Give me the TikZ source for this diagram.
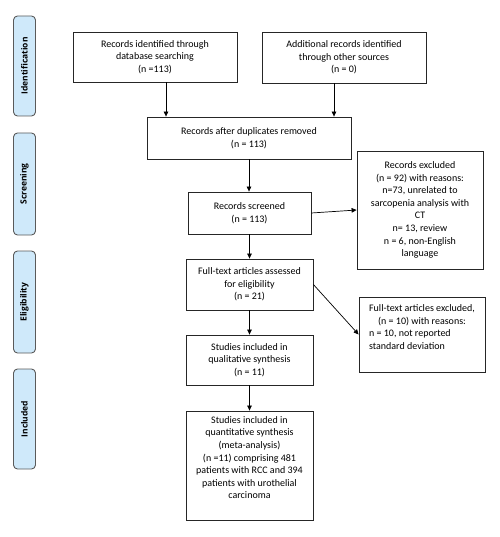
\documentclass[tikz,border=0pt]{standalone}
\usepackage{fontspec}
\setmainfont{Carlito}
\newfontfamily\sidefont{Open Sans}
\usetikzlibrary{arrows.meta}
\definecolor{sidefill}{RGB}{207,233,250}
\definecolor{sideline}{RGB}{90,90,90}
\begin{document}
\begin{tikzpicture}[x=1pt,y=-1pt,
  box/.style={draw=black!85, line width=0.8pt, fill=white, align=center, inner sep=2pt,
    font=\fontsize{10}{12.6}\selectfont},
  side/.style={draw=sideline, line width=0.9pt, fill=sidefill, rounded corners=4pt,
    minimum width=22pt, inner sep=0pt},
  sidetext/.style={rotate=90, font=\sidefont\fontsize{8.5}{10}\selectfont\bfseries},
  arr/.style={line width=0.7pt, -{Triangle[length=5pt,width=4.5pt]}}]
\useasboundingbox (0,0) rectangle (499,537);
% side labels
\node[side, minimum height=100pt] (sid) at (24.5,66) {};
\node[sidetext] (sidt) at (sid.center) {Identification};
\node[side, minimum height=102pt] (sscr) at (24.5,184) {};
\node[sidetext] (sscrt) at (sscr.center) {Screening};
\node[side, minimum height=102pt] (seli) at (24.5,302) {};
\node[sidetext] (selit) at (seli.center) {Eligibility};
\node[side, minimum height=100pt] (sinc) at (24.5,419) {};
\node[sidetext] (sinct) at (sinc.center) {Included};
% boxes
\node[box, minimum width=164pt, minimum height=50pt] (b1) at (155,57)
  {Records identified through\\database searching\\(n =113)};
\node[box, minimum width=164pt, minimum height=51pt] (b2) at (344,57.5)
  {Additional records identified\\through other sources\\(n = 0)};
\node[box, minimum width=204pt, minimum height=42pt] (b3) at (249,138)
  {Records after duplicates removed\\(n = 113)};
\node[box, minimum width=123pt, minimum height=42pt] (scr) at (249.5,213)
  {Records screened\\(n = 113)};
\node[box, minimum width=126pt, minimum height=118pt] (exc) at (420,210)
  {Records excluded\\(n = 92) with reasons:\\n=73, unrelated to\\sarcopenia analysis with\\CT\\n= 13, review\\n = 6, non-English\\language};
\node[box, minimum width=127pt, minimum height=51pt] (ft) at (249.5,284.5)
  {Full-text articles assessed\\for eligibility\\(n = 21)};
\node[box, minimum width=126pt, minimum height=75pt,
  label={[anchor=north, yshift=-6pt, font=\fontsize{10}{12.6}\selectfont, inner sep=0pt]north:{%
    \begin{tabular}{@{}l@{}}\multicolumn{1}{@{}c@{}}{Full-text articles excluded,}\\
    \multicolumn{1}{@{}c@{}}{(n = 10) with reasons:}\\n = 10, not reported\\standard deviation\end{tabular}}}]
  (fte) at (422,334.5) {};
\node[box, minimum width=127pt, minimum height=50pt] (qual) at (249.5,360)
  {Studies included in\\qualitative synthesis\\(n = 11)};
\node[box, minimum width=127pt, minimum height=109pt] (quant) at (249.5,465.5)
  {Studies included in\\quantitative synthesis\\(meta-analysis)\\(n =11) comprising 481\\patients with RCC and 394\\patients with urothelial\\carcinoma\\[3pt]};
% connectors
\draw[arr] ([xshift=11pt]b1.south) -- ([xshift=11pt]b1.south |- b3.north);
\draw[arr] ([xshift=-10pt]b2.south) -- ([xshift=-10pt]b2.south |- b3.north);
\draw[arr] (b3.south) -- (b3.south |- scr.north);
\draw[arr] (scr.east) -- (exc.west);
\draw[arr] (scr.south) -- (ft.north);
\draw[arr] (ft.east) -- (fte.west);
\draw[arr] (ft.south) -- (qual.north);
\draw[arr] (qual.south) -- (quant.north);
\end{tikzpicture}
\end{document}
